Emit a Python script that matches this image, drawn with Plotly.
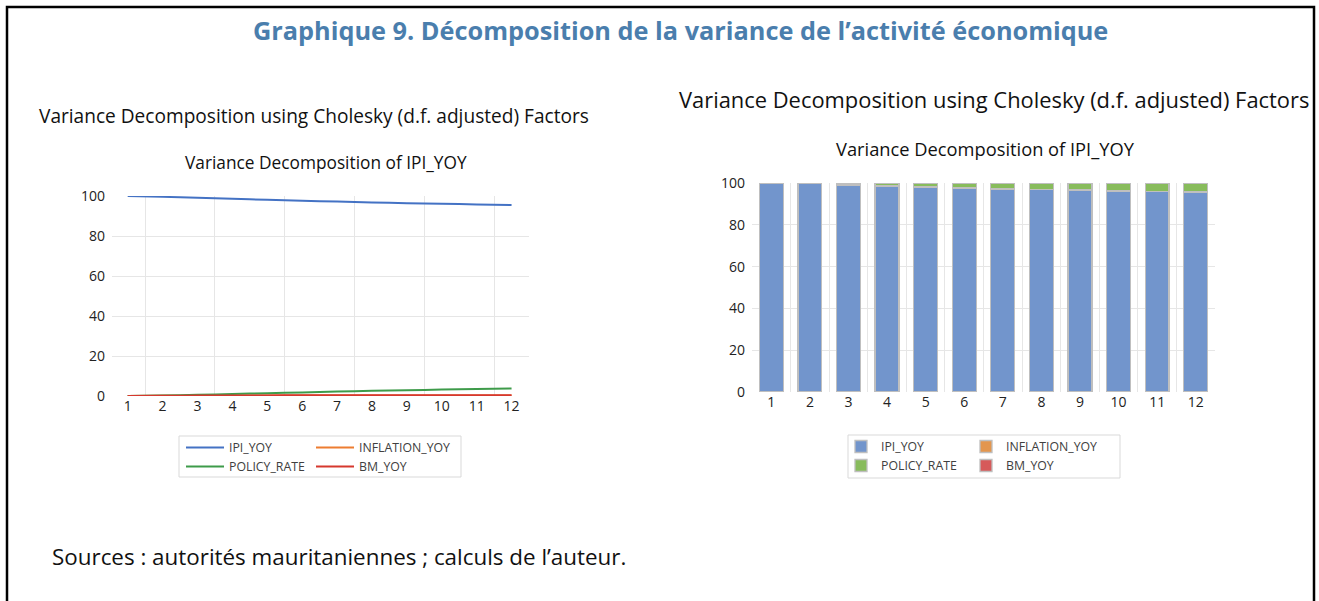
import plotly.graph_objects as go

W, H = 1319, 601
def px(x): return x / W
def py(y): return 1 - y / H

periods = list(range(1, 13))
series_names = ["IPI_YOY", "INFLATION_YOY", "POLICY_RATE", "BM_YOY"]
ipi_yoy = [100.0, 99.6, 99.1, 98.6, 98.1, 97.6, 97.2, 96.8, 96.4, 96.1, 95.8, 95.5]
inflation_yoy = [0.0, 0.1, 0.1, 0.2, 0.2, 0.2, 0.2, 0.2, 0.3, 0.3, 0.3, 0.3]
policy_rate = [0.0, 0.2, 0.6, 1.0, 1.4, 1.8, 2.2, 2.6, 2.9, 3.2, 3.5, 3.8]
bm_yoy = [0.0, 0.1, 0.2, 0.2, 0.3, 0.4, 0.4, 0.4, 0.4, 0.4, 0.4, 0.4]
y_ticks = [0, 20, 40, 60, 80, 100]

values = [ipi_yoy, inflation_yoy, policy_rate, bm_yoy]
line_colors = ["#4472C4", "#ED7D31", "#3E9B4A", "#D6382E"]
bar_colors = ["#7295CC", "#E3964E", "#88BC5C", "#D65A5A"]
left_leg = {"IPI_YOY": "legend", "POLICY_RATE": "legend", "INFLATION_YOY": "legend2", "BM_YOY": "legend2"}
right_leg = {"IPI_YOY": "legend3", "POLICY_RATE": "legend3", "INFLATION_YOY": "legend4", "BM_YOY": "legend4"}

FONT = "Open Sans"
TXT = "#404040"

fig = go.Figure()
for name, vals, c in zip(series_names, values, line_colors):
    fig.add_trace(go.Scatter(x=periods, y=vals, mode="lines", name=name,
                             line=dict(color=c, width=2, shape="spline", smoothing=0.6),
                             xaxis="x", yaxis="y", legend=left_leg[name]))
for name, vals, c in zip(series_names, values, bar_colors):
    fig.add_trace(go.Bar(x=periods, y=vals, name=name, width=0.62,
                         marker=dict(color=c, line=dict(color="#BFBFBF", width=1.3)),
                         xaxis="x2", yaxis="y2", legend=right_leg[name]))

grid = "#E6E6E6"
axis_common = dict(tickfont=dict(family=FONT, size=14, color="#222222"), zeroline=False,
                   showline=False, ticks="")
fig.update_layout(
    width=W, height=H, margin=dict(l=0, r=0, t=0, b=0, autoexpand=False),
    paper_bgcolor="white", plot_bgcolor="white", barmode="stack",
    font=dict(family=FONT, color=TXT),
    xaxis=dict(domain=[px(112), px(529)], range=[0.55, 12.5], tickvals=periods,
               showgrid=False, minor=dict(tickvals=[1.5, 3.5, 5.5, 7.5, 9.5, 11.5], showgrid=True,
                                          gridcolor=grid, gridwidth=1),
               anchor="y", **axis_common),
    yaxis=dict(domain=[py(396), py(196)], range=[0, 100], tickvals=y_ticks, showgrid=True,
               gridcolor=grid, anchor="x", ticklabelstandoff=6, **axis_common),
    xaxis2=dict(domain=[px(752), px(1215)], range=[0.5, 12.5], tickvals=periods,
                showgrid=False, minor=dict(tickvals=[i + 0.5 for i in range(1, 12)], showgrid=True,
                                           gridcolor=grid, gridwidth=1),
                anchor="y2", **axis_common),
    yaxis2=dict(domain=[py(392), py(183)], range=[0, 100], tickvals=y_ticks, showgrid=True,
                gridcolor=grid, anchor="x2", ticklabelstandoff=6, **axis_common),
    showlegend=True,
)

leg_common = dict(orientation="v", bgcolor="rgba(0,0,0,0)", borderwidth=0, xanchor="left",
                  yanchor="top", tracegroupgap=0, traceorder="normal")
lf = dict(family=FONT, size=12.3, color=TXT)
fig.update_layout(
    legend=dict(x=px(181), y=py(433), font=lf, itemwidth=38, **leg_common),
    legend2=dict(x=px(311), y=py(433), font=lf, itemwidth=38, **leg_common),
    legend3=dict(x=px(841), y=py(432), font=lf, itemwidth=30, **leg_common),
    legend4=dict(x=px(966), y=py(432), font=lf, itemwidth=30, **leg_common),
)

shapes = [
    dict(type="rect", xref="paper", yref="paper", x0=px(7), x1=px(1314), y0=py(7), y1=py(640),
         line=dict(color="black", width=2.5), fillcolor="rgba(0,0,0,0)"),
    dict(type="rect", xref="paper", yref="paper", x0=px(179), x1=px(461), y0=py(436), y1=py(477),
         line=dict(color="#D9D9D9", width=1), fillcolor="rgba(0,0,0,0)"),
    dict(type="rect", xref="paper", yref="paper", x0=px(848), x1=px(1120), y0=py(435), y1=py(478),
         line=dict(color="#D9D9D9", width=1), fillcolor="rgba(0,0,0,0)"),
]
fig.update_layout(shapes=shapes)

def ann(text, x, y, size, color=TXT, bold=False, xanchor="center"):
    t = f"<b>{text}</b>" if bold else text
    fig.add_annotation(text=t, x=px(x), y=py(y), xref="paper", yref="paper", showarrow=False,
                       xanchor=xanchor, yanchor="middle",
                       font=dict(family=FONT, size=size, color=color))

ann("Graphique 9. Décomposition de la variance de l’activité économique", 680, 30, 25.3,
    color="#4A7EAD", bold=True)
ann("Variance Decomposition using Cholesky (d.f. adjusted) Factors", 37, 116, 19.1,
    color="#111111", xanchor="left")
ann("Variance Decomposition using Cholesky (d.f. adjusted) Factors", 677, 100, 21.9,
    color="#111111", xanchor="left")
ann("Variance Decomposition of IPI_YOY", 326, 162, 17.3, color="#111111")
ann("Variance Decomposition of IPI_YOY", 985, 148, 18.3, color="#111111")
ann("Sources : autorités mauritaniennes ; calculs de l’auteur.", 50, 556, 22.4,
    color="#111111", xanchor="left")

post = ("document.documentElement.style.margin='0';document.documentElement.style.overflow='hidden';"
        "document.body.style.margin='0';document.body.style.overflow='hidden';"
        "var d=document.getElementById('{plot_id}');d.style.position='absolute';"
        "d.style.top='0px';d.style.left='0px';")
fig.write_html("out.html", config={"displayModeBar": False}, post_script=post)
